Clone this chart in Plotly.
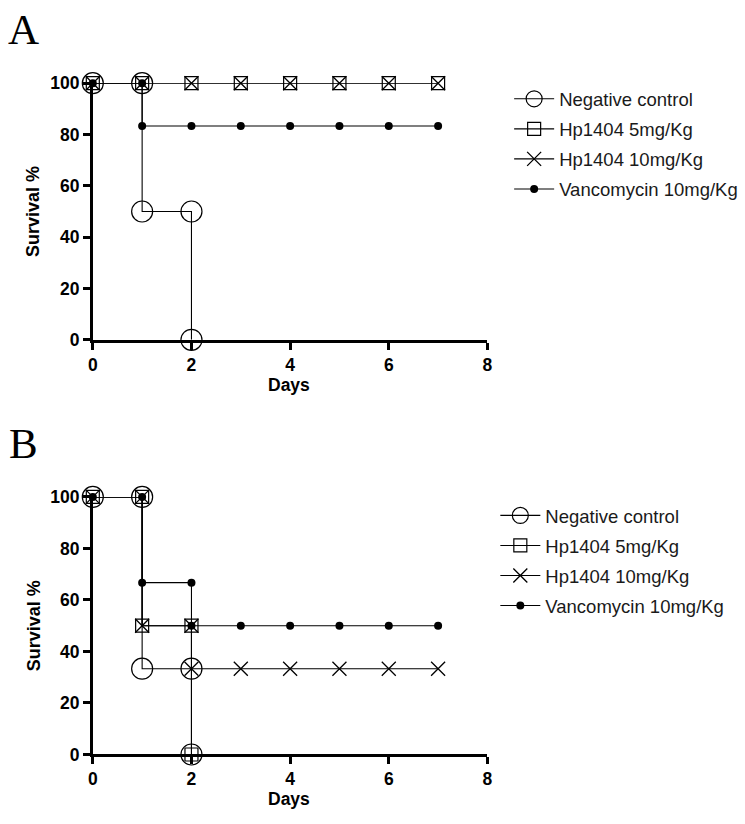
import plotly.graph_objects as go

W, H = 745, 824

# survival data (percent), one value per day
series_names = ["Negative control", "Hp1404 5mg/Kg", "Hp1404 10mg/Kg", "Vancomycin 10mg/Kg"]

days_a_neg = [0, 1, 2]
surv_a_neg = [100, 50, 0]
days_a_5 = [0, 1, 2, 3, 4, 5, 6, 7]
surv_a_5 = [100, 100, 100, 100, 100, 100, 100, 100]
days_a_10 = [0, 1, 2, 3, 4, 5, 6, 7]
surv_a_10 = [100, 100, 100, 100, 100, 100, 100, 100]
days_a_van = [0, 1, 2, 3, 4, 5, 6, 7]
surv_a_van = [100, 83.3, 83.3, 83.3, 83.3, 83.3, 83.3, 83.3]

days_b_neg = [0, 1, 2]
surv_b_neg = [100, 33.3, 0]
days_b_5 = [0, 1, 2]
surv_b_5 = [100, 50, 0]
days_b_10 = [0, 1, 2, 3, 4, 5, 6, 7]
surv_b_10 = [100, 50, 33.3, 33.3, 33.3, 33.3, 33.3, 33.3]
days_b_van = [0, 1, 2, 3, 4, 5, 6, 7]
surv_b_van = [100, 66.7, 50, 50, 50, 50, 50, 50]

x_ticks = [0, 2, 4, 6, 8]
y_ticks = [0, 20, 40, 60, 80, 100]


def steps(days, vals):
    # kaplan-meier staircase, symbol at both ends of each drop
    xs, ys = [days[0]], [vals[0]]
    for i in range(1, len(days)):
        if vals[i] != vals[i - 1]:
            xs.append(days[i])
            ys.append(vals[i - 1])
        xs.append(days[i])
        ys.append(vals[i])
    return xs, ys


markers = [
    dict(symbol="circle-open", size=21, color="black", line=dict(width=1.2, color="black")),
    dict(symbol="square-open", size=13, color="black", line=dict(width=1.2, color="black")),
    dict(symbol="x-thin-open", size=14, color="black", line=dict(width=1.3, color="black")),
    dict(symbol="circle", size=8, color="black", line=dict(width=0, color="black")),
]

panel_a = [(days_a_neg, surv_a_neg), (days_a_5, surv_a_5), (days_a_10, surv_a_10), (days_a_van, surv_a_van)]
panel_b = [(days_b_neg, surv_b_neg), (days_b_5, surv_b_5), (days_b_10, surv_b_10), (days_b_van, surv_b_van)]

fig = go.Figure()
for k, (panel, xa, ya, leg) in enumerate([(panel_a, "x", "y", "legend"), (panel_b, "x2", "y2", "legend2")]):
    for i, (d, v) in enumerate(panel):
        xs, ys = steps(d, v)
        fig.add_trace(go.Scatter(
            x=xs, y=ys, mode="lines+markers", name=series_names[i],
            xaxis=xa, yaxis=ya, legend=leg, legendgroup=f"{k}{i}",
            line=dict(color="black", width=1.1),
            marker=markers[i], cliponaxis=False,
        ))

tickfont = dict(family="Arial, Liberation Sans", size=17.5, color="black", weight="bold")
axis_common = dict(
    showline=True, linewidth=2.6, linecolor="black", ticks="outside", ticklen=7,
    tickwidth=2.6, tickcolor="black", showgrid=False, zeroline=False,
    tickfont=tickfont, fixedrange=True,
)

xdom = [89 / W, 489 / W]
ydom_a = [1 - 338 / H, 1 - 75 / H]
ydom_b = [1 - 763 / H, 1 - 499 / H]

leg_common = dict(
    font=dict(family="Arial, Liberation Sans", size=18.5, color="#1a1a1a"),
    xanchor="left", yanchor="top", bgcolor="rgba(0,0,0,0)",
    traceorder="grouped", tracegroupgap=3, itemsizing="trace", itemwidth=40,
)

fig.update_layout(
    width=W, height=H, margin=dict(l=0, r=0, t=0, b=0),
    paper_bgcolor="white", plot_bgcolor="white",
    xaxis=dict(domain=xdom, range=[0, 8], tickvals=x_ticks, anchor="y", **axis_common),
    yaxis=dict(domain=ydom_a, range=[0, 100], tickvals=y_ticks, anchor="x", **axis_common),
    xaxis2=dict(domain=xdom, range=[0, 8], tickvals=x_ticks, anchor="y2", **axis_common),
    yaxis2=dict(domain=ydom_b, range=[0, 100], tickvals=y_ticks, anchor="x2", **axis_common),
    legend=dict(x=511 / W, y=1 - 72 / H, **leg_common),
    legend2=dict(x=497 / W, y=1 - 499 / H, **leg_common),
    showlegend=True,
)

title_font = dict(family="Arial, Liberation Sans", size=17.5, color="black", weight="bold")
ytitle_font = dict(family="Arial, Liberation Sans", size=18, color="black", weight="bold")
letter_font = dict(family="Liberation Serif, Times New Roman", size=43, color="black")
for ya_px_top, ya_px_bot, axis_px, letter, letter_y in [(75, 338, 338, "A", 20), (499, 763, 763, "B", 444)]:
    fig.add_annotation(text="Days", x=288 / W, y=1 - (axis_px + 46) / H, xref="paper", yref="paper",
                       showarrow=False, font=title_font, xanchor="center", yanchor="middle")
    fig.add_annotation(text="Survival %", x=29 / W, y=1 - (ya_px_top + ya_px_bot) / 2 / H,
                       xref="paper", yref="paper", showarrow=False, font=ytitle_font,
                       textangle=-90, xanchor="center", yanchor="middle")
    fig.add_annotation(text=letter, x=19 / W, y=1 - letter_y / H, xref="paper", yref="paper",
                       showarrow=False, font=letter_font, xanchor="center", yanchor="middle")

# page body has an 8px default margin, drop it so the figure sits at 0,0
fig.write_html("out.html", config={"displayModeBar": False},
               post_script="document.body.style.margin='0px';")
